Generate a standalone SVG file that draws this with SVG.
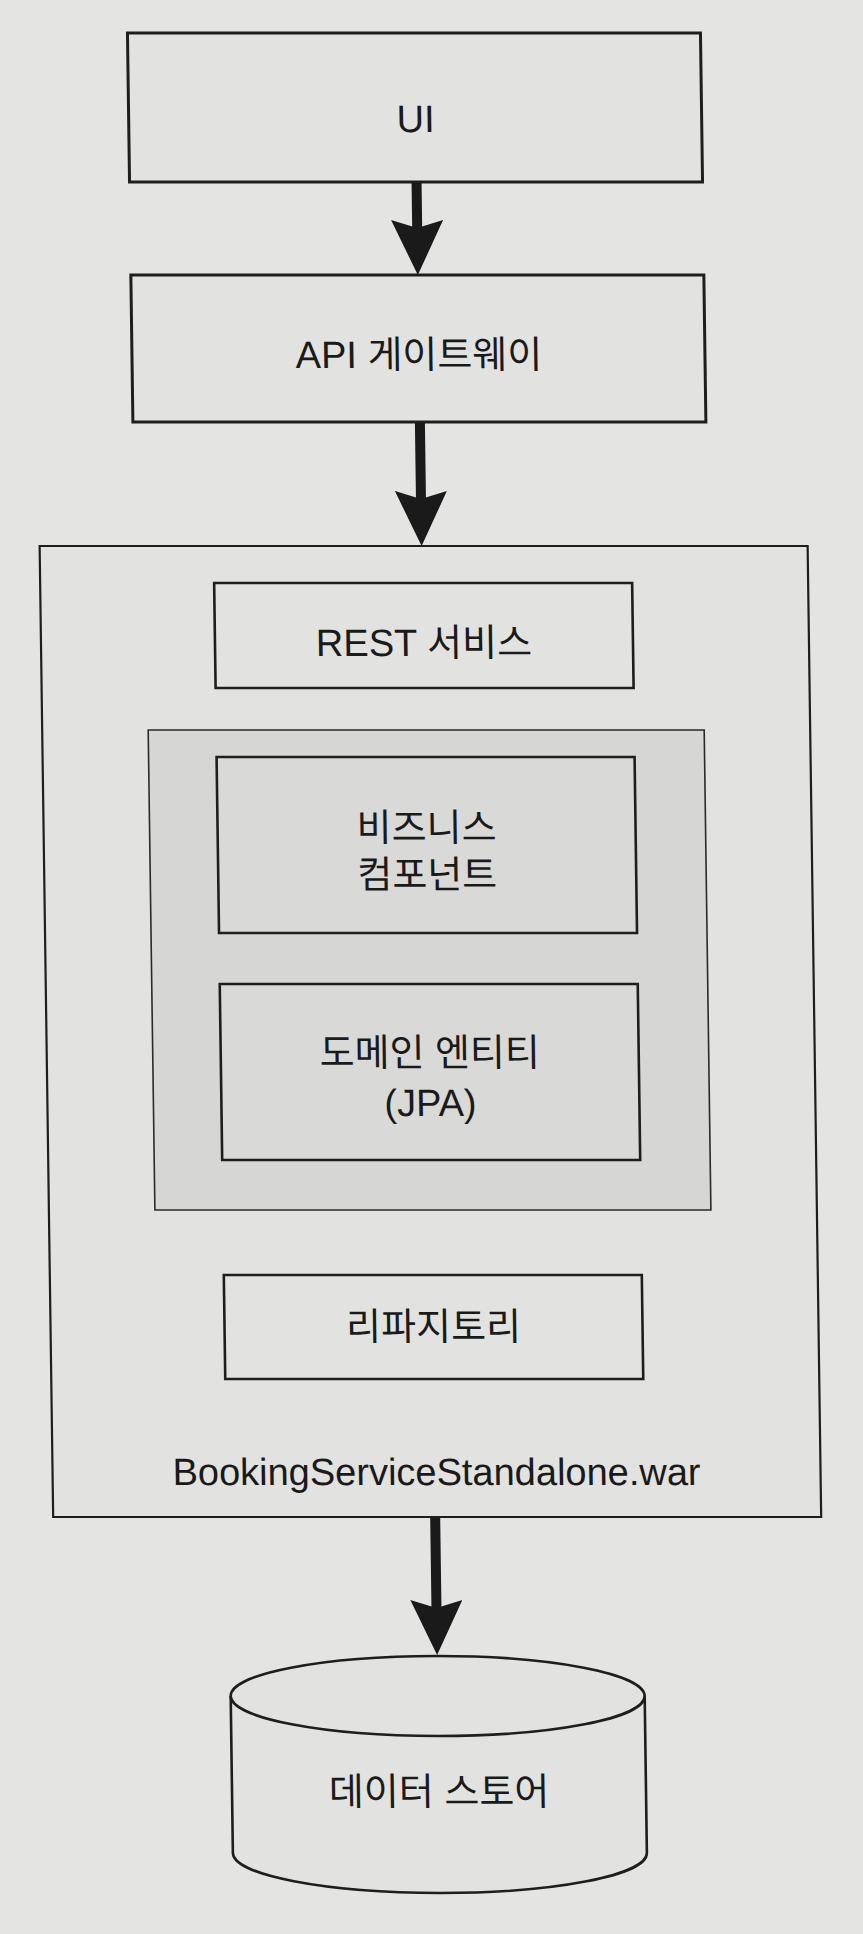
<svg xmlns="http://www.w3.org/2000/svg" width="863" height="1934" viewBox="0 0 863 1934">
  <style>
    .bg { fill: #e4e4e2; }
    .box { fill: #e2e2e0; stroke: #1e1e1e; stroke-width: 3; }
    .frame { fill: #e2e2e0; stroke: #1e1e1e; stroke-width: 2.2; }
    .panel { fill: #d6d6d4; stroke: #2a2a2a; stroke-width: 1.6; }
    .inner { fill: #d9d9d7; stroke: #1e1e1e; stroke-width: 2.6; }
    .plain { fill: #e2e2e0; stroke: #1e1e1e; stroke-width: 2.6; }
    .db { fill: #e2e2e0; stroke: #1e1e1e; stroke-width: 2.6; }
    .t { font-family: "Liberation Sans", "Noto Sans CJK KR", sans-serif; font-size: 38px; fill: #1a1a1a; text-anchor: middle; }
    .conn { stroke: #1a1a1a; stroke-width: 10; fill: none; marker-end: url(#head); }
  </style>
  <defs>
    <marker id="head" markerUnits="userSpaceOnUse" viewBox="0 0 55 52" markerWidth="55" markerHeight="52" refX="10" refY="26" orient="auto">
      <path d="M0,0 L55,26 L0,52 L8,26 Z" fill="#1a1a1a"/>
    </marker>
  </defs>
  <rect class="bg" x="0" y="0" width="863" height="1934"/>
  <g transform="translate(-14,0) skewX(0.8)">
    <g id="ui">
      <rect class="box" x="141" y="33" width="573" height="149"/>
      <text class="t" x="428" y="132">UI</text>
    </g>
    <g id="api-gateway">
      <rect class="box" x="141" y="275" width="573" height="147"/>
      <text class="t" x="428" y="368">API 게이트웨이</text>
    </g>
    <g id="booking-service-war">
      <rect class="frame" x="46" y="546" width="768" height="971"/>
      <text class="t" x="430" y="1485">BookingServiceStandalone.war</text>
    </g>
    <g id="rest-service">
      <rect class="plain" x="220" y="583" width="418" height="105"/>
      <text class="t" x="429" y="656">REST 서비스</text>
    </g>
    <g id="domain-panel">
      <rect class="panel" x="152" y="730" width="556" height="480"/>
    </g>
    <g id="business-component">
      <rect class="inner" x="220" y="757" width="418" height="176"/>
      <text class="t" x="429" y="841">비즈니스</text>
      <text class="t" x="429" y="888">컴포넌트</text>
    </g>
    <g id="domain-entity">
      <rect class="inner" x="220" y="984" width="418" height="176"/>
      <text class="t" x="429" y="1066">도메인 엔티티</text>
      <text class="t" x="429" y="1116">(JPA)</text>
    </g>
    <g id="repository">
      <rect class="plain" x="220" y="1275" width="418" height="104"/>
      <text class="t" x="429" y="1340">리파지토리</text>
    </g>
    <g id="data-store">
      <path class="db" d="M221,1696 V1853 A207,40 0 0 0 635,1853 V1696"/>
      <ellipse class="db" cx="428" cy="1696" rx="207" ry="40"/>
      <text class="t" x="428" y="1805">데이터 스토어</text>
    </g>
    <g id="connectors">
      <path class="conn" d="M428,183 V230"/>
      <path class="conn" d="M428,423 V501"/>
      <path class="conn" d="M428,1518 V1610"/>
    </g>
  </g>
</svg>
